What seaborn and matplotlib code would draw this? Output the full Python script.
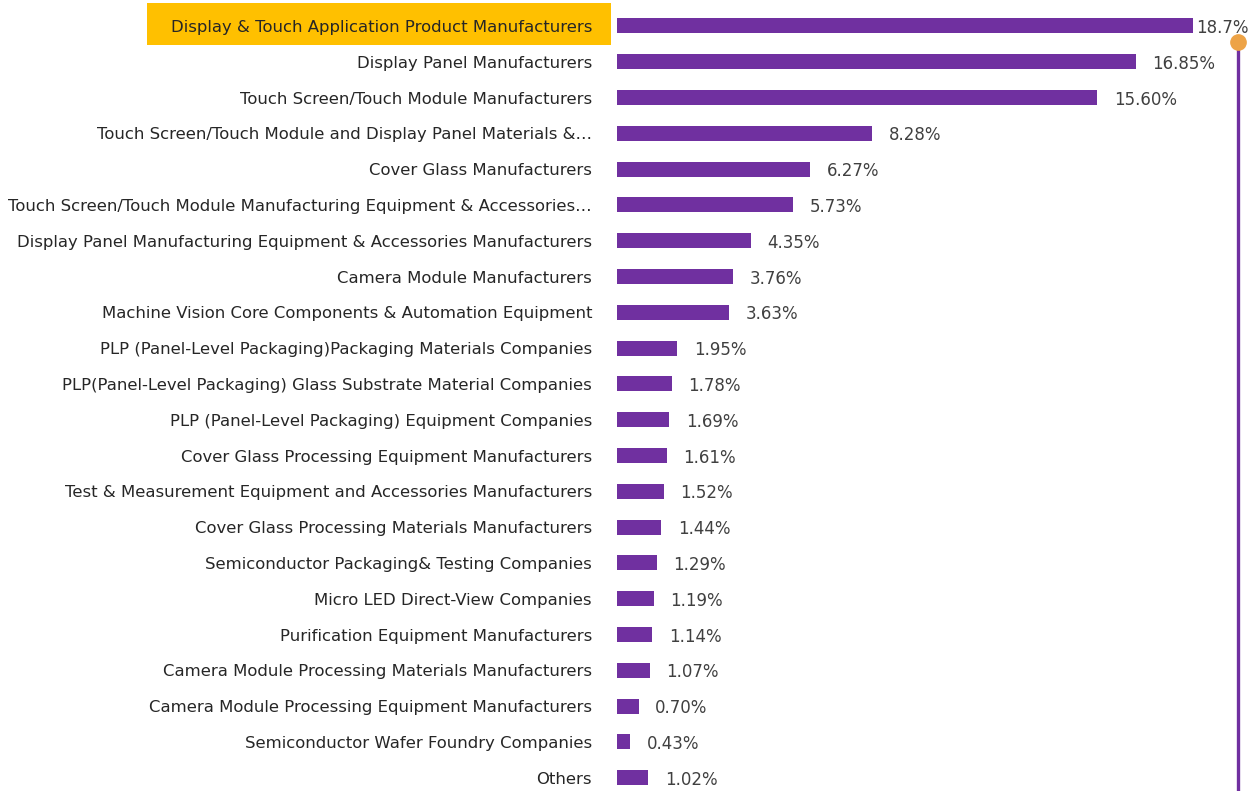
import matplotlib
matplotlib.use("Agg")
import matplotlib.pyplot as plt
import pandas as pd
import seaborn as sns
from matplotlib.patches import Rectangle

categories = [
    "Display & Touch Application Product Manufacturers",
    "Display Panel Manufacturers",
    "Touch Screen/Touch Module Manufacturers",
    "Touch Screen/Touch Module and Display Panel Materials &…",
    "Cover Glass Manufacturers",
    "Touch Screen/Touch Module Manufacturing Equipment & Accessories…",
    "Display Panel Manufacturing Equipment & Accessories Manufacturers",
    "Camera Module Manufacturers",
    "Machine Vision Core Components & Automation Equipment",
    "PLP (Panel-Level Packaging)Packaging Materials Companies",
    "PLP(Panel-Level Packaging) Glass Substrate Material Companies",
    "PLP (Panel-Level Packaging) Equipment Companies",
    "Cover Glass Processing Equipment Manufacturers",
    "Test & Measurement Equipment and Accessories Manufacturers",
    "Cover Glass Processing Materials Manufacturers",
    "Semiconductor Packaging& Testing Companies",
    "Micro LED Direct-View Companies",
    "Purification Equipment Manufacturers",
    "Camera Module Processing Materials Manufacturers",
    "Camera Module Processing Equipment Manufacturers",
    "Semiconductor Wafer Foundry Companies",
    "Others",
]
shares = [18.7, 16.85, 15.60, 8.28, 6.27, 5.73, 4.35, 3.76, 3.63, 1.95, 1.78,
          1.69, 1.61, 1.52, 1.44, 1.29, 1.19, 1.14, 1.07, 0.70, 0.43, 1.02]
share_labels = ["18.7%", "16.85%", "15.60%", "8.28%", "6.27%", "5.73%", "4.35%",
                "3.76%", "3.63%", "1.95%", "1.78%", "1.69%", "1.61%", "1.52%",
                "1.44%", "1.29%", "1.19%", "1.14%", "1.07%", "0.70%", "0.43%", "1.02%"]

PURPLE = "#7030A0"
ORANGE = "#EDA346"
GOLD = "#FFC000"

df = pd.DataFrame({"category": categories, "share": shares})

sns.set_style("white")
plt.rcParams["font.family"] = ["DejaVu Sans"]

fig = plt.figure(figsize=(12.56, 7.91), dpi=100)
ax = fig.add_axes([617 / 1256, 0, 639 / 1256, 783 / 791])
ax.set_facecolor("none")

sns.barplot(data=df, x="share", y="category", orient="h", color=PURPLE,
            width=0.42, saturation=1, linewidth=0, ax=ax)

for i, (v, lab) in enumerate(zip(shares, share_labels)):
    off = 2 if i == 0 else 12
    ax.annotate(lab, (v, i), xytext=(off, 0), textcoords="offset points",
                va="center_baseline", ha="left", fontsize=12, color="#404040")

# marker line on the right
line_x = 20.16
ax.plot([line_x, line_x], [0.45, 21.5], color=PURPLE, lw=2.4, clip_on=False, zorder=2)
ax.plot([line_x], [0.45], "o", color=ORANGE, ms=11, clip_on=False, zorder=3)

ax.set_xlim(0, 20.75)
ax.set_ylim(21.37, -0.5)
ax.set_xlabel("")
ax.set_ylabel("")
ax.set_xticks([])
ax.tick_params(axis="y", length=0, pad=18, labelsize=11.85, labelcolor="#262626")
sns.despine(ax=ax, left=True, bottom=True)

# highlight first category label
fig.add_artist(Rectangle((147 / 1256, 1 - 45 / 791), 464 / 1256, 42 / 791,
                         transform=fig.transFigure, facecolor=GOLD,
                         edgecolor="none", zorder=-1))

fig.savefig("out.png", dpi=100)
